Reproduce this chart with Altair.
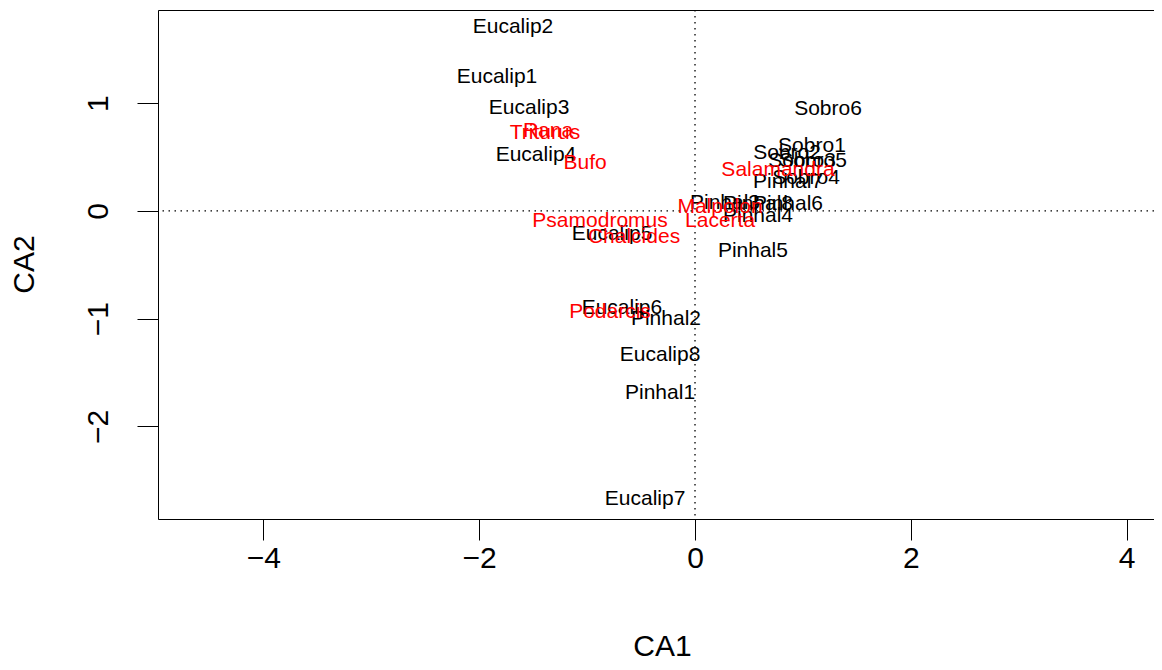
import altair as alt
import pandas as pd

# Site scores (black labels)
site_names = ["Eucalip1", "Eucalip2", "Eucalip3", "Eucalip4", "Eucalip5", "Eucalip6",
              "Eucalip7", "Eucalip8", "Pinhal1", "Pinhal2", "Pinhal3", "Pinhal4",
              "Pinhal5", "Pinhal6", "Pinhal7", "Pinhal8", "Sobro1", "Sobro2",
              "Sobro3", "Sobro4", "Sobro5", "Sobro6"]
site_ca1 = [-1.835, -1.687, -1.538, -1.474, -0.769, -0.677, -0.463, -0.324, -0.324,
            -0.269, 0.278, 0.584, 0.537, 0.862, 0.862, 0.584, 1.084, 0.853, 0.992,
            1.029, 1.094, 1.233]
site_ca2 = [1.244, 1.708, 0.956, 0.520, -0.214, -0.901, -2.674, -1.337, -1.690,
            -1.003, 0.074, -0.046, -0.371, 0.065, 0.269, 0.065, 0.604, 0.539, 0.464,
            0.306, 0.464, 0.947]

# Species scores (red labels)
spec_names = ["Rana", "Triturus", "Bufo", "Psamodromus", "Chalcides", "Podarcis",
              "Salamandra", "Malpolon", "Lacerta"]
spec_ca1 = [-1.362, -1.390, -1.019, -0.880, -0.565, -0.788, 0.769, 0.232, 0.232]
spec_ca2 = [0.743, 0.724, 0.446, -0.093, -0.241, -0.938, 0.381, 0.037, -0.093]

x_ticks = [-4, -2, 0, 2, 4]
y_ticks = [-2, -1, 0, 1]
x_domain = [-4.977, 4.254]
y_domain = [-2.86, 1.866]
origin = [0]

sites = pd.DataFrame({"CA1": site_ca1, "CA2": site_ca2, "label": site_names})
specs = pd.DataFrame({"CA1": spec_ca1, "CA2": spec_ca2, "label": spec_names})
zero = pd.DataFrame({"v": origin})

FONT = "Liberation Sans"

xscale = alt.Scale(domain=x_domain, nice=False, zero=False)
yscale = alt.Scale(domain=y_domain, nice=False, zero=False)

xaxis = alt.Axis(values=x_ticks, format="d", grid=False, domain=True, domainColor="black",
                 tickColor="black", tickSize=21, tickWidth=1, labelFontSize=30,
                 labelColor="black", labelFont=FONT, labelPadding=3, titleFont=FONT,
                 titleFontSize=30, titleFontWeight="normal", titleColor="black",
                 titleBaseline="alphabetic", titlePadding=82, titleX=504)
yaxis = alt.Axis(values=y_ticks, format="d", grid=False, domain=True, domainColor="black",
                 tickColor="black", tickSize=21, tickWidth=1, labelFontSize=30,
                 labelColor="black", labelFont=FONT, labelAngle=270, labelAlign="center",
                 labelBaseline="bottom", labelPadding=24, titleFont=FONT, titleFontSize=30,
                 titleFontWeight="normal", titleColor="black", titleBaseline="middle",
                 titleX=-134, titleY=254)

site_text = alt.Chart(sites).mark_text(font=FONT, fontSize=21, color="black",
                                       baseline="middle", align="center").encode(
    x=alt.X("CA1:Q", scale=xscale, axis=xaxis, title="CA1"),
    y=alt.Y("CA2:Q", scale=yscale, axis=yaxis, title="CA2"),
    text="label:N",
)

spec_text = alt.Chart(specs).mark_text(font=FONT, fontSize=21, color="#FF0000",
                                       baseline="middle", align="center").encode(
    x=alt.X("CA1:Q", scale=xscale, axis=None),
    y=alt.Y("CA2:Q", scale=yscale),
    text="label:N",
)

vline = alt.Chart(zero).mark_rule(color="black", strokeDash=[1.5, 4.5], strokeWidth=1.3).encode(
    x=alt.X("v:Q", scale=xscale,
            axis=alt.Axis(orient="top", labels=False, ticks=False, grid=False, domain=True,
                          domainColor="black", title=None)),
)
hline = alt.Chart(zero).mark_rule(color="black", strokeDash=[1.5, 4.5], strokeWidth=1.3).encode(
    y=alt.Y("v:Q", scale=yscale),
)

chart = alt.layer(vline, hline, site_text, spec_text).resolve_axis(x="independent").properties(
    width=996, height=509,
    autosize=alt.AutoSizeParams(type="none"),
    padding={"left": 150, "top": 2, "right": 0, "bottom": 143},
).configure_view(stroke=None).configure(background="white")

chart.save("out.html", embed_options={"renderer": "svg", "actions": False})
